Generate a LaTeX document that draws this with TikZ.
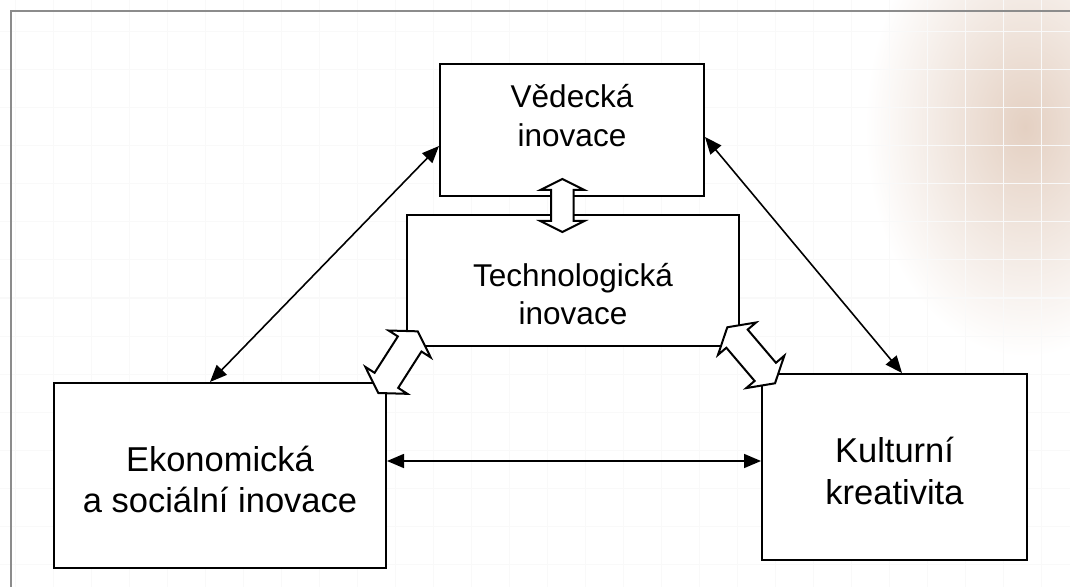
\documentclass[tikz,border=0pt]{standalone}
\usepackage{fontspec}
\setmainfont{Liberation Sans}
\usetikzlibrary{arrows.meta}
\begin{document}
\begin{tikzpicture}[x=1pt, y=1pt]
    \tikzset{>={Triangle[length=17pt,width=14pt]},
      box/.style={draw, line width=2pt, fill=white, inner sep=0pt},
      small/.style={align=center, font=\fontsize{31.5}{38.5}\selectfont},
      big/.style={align=center, font=\fontsize{34.5}{41.5}\selectfont},
      link/.style={<->, line width=1.6pt},
      pics/blockarrow/.style n args={4}{code={
        \draw[line width=2pt, fill=white] (0,0) -- (#2,#3) -- (#2,#4) -- (#1-#2,#4) -- (#1-#2,#3) -- (#1,0)
          -- (#1-#2,-#3) -- (#1-#2,-#4) -- (#2,-#4) -- (#2,-#3) -- cycle;}}}
    \useasboundingbox (0,0) rectangle (1070,587);
    \fill [white] (0,0) rectangle (1070,587);
    \shade [inner color={rgb,255:red,228;green,208;blue,194}, outer color=white] (1025,460) ellipse (160 and 230);
    \draw [black!2.5, line width=1pt, shift={(15,23)}] (-15,-23) grid [step=38pt] (1055,564);
    \draw [black!45, line width=1.7pt] (1070,576) -- (11,576) -- (11,0);
    \node [box, minimum width=264pt, minimum height=132pt] (ved) at (572,457) {};
    \node [box, minimum width=332pt, minimum height=131pt] (tech) at (573,306.5) {};
    \node [box, minimum width=332pt, minimum height=185pt] (eko) at (220,111.5) {};
    \node [box, minimum width=265pt, minimum height=186pt] (kul) at (894.5,120) {};
    \node [small] (vedtext) at ([yshift=14.5pt]ved.center) {Vědecká\\inovace};
    \node [small] (techtext) at ([yshift=-13.5pt]tech.center) {Technologická\\inovace};
    \node [big] (ekotext) at ([yshift=-4pt]eko.center) {Ekonomická\\a sociální inovace};
    \node [big] (kultext) at ([yshift=-4pt]kul.center) {Kulturní\\kreativita};
    \draw [link] ([yshift=-16pt]ved.west) -- ([xshift=-10pt]eko.north);
    \draw [link] ([yshift=-7pt]ved.east) -- ([xshift=7.5pt]kul.north);
    \draw [link] ([yshift=14.5pt]eko.east) -- ([yshift=14.5pt]eko.east -| kul.west);
    \path ([shift={(-10.7,-18)}]tech.north) pic [rotate=90] {blockarrow={53}{11}{22}{11.3}};
    \path ([shift={(-8.7,-11)}]eko.north east) pic [rotate=57.4] {blockarrow={73.2}{15}{25}{14}};
    \path ([shift={(14,-10.3)}]kul.north west) pic [rotate=130.4] {blockarrow={73.6}{15}{25}{14}};
\end{tikzpicture}
\end{document}
